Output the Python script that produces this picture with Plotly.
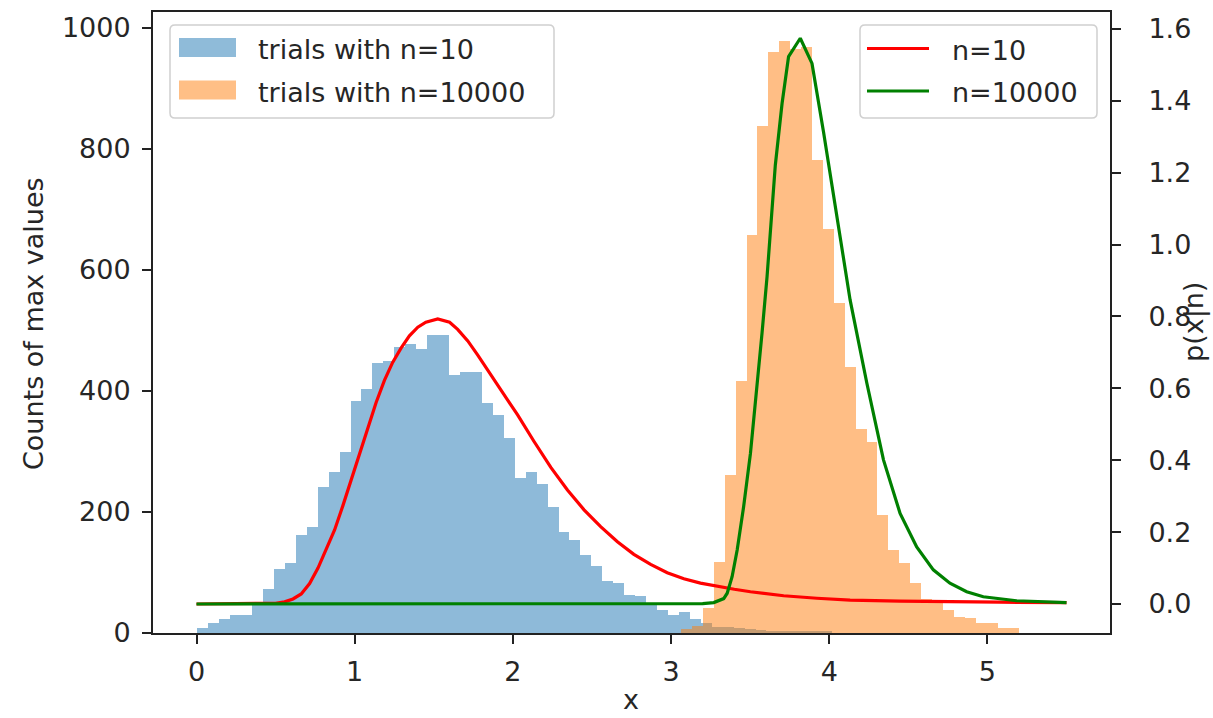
import numpy as np
import plotly.graph_objects as go

# Histogram of maxima, n = 10 trials
bins10_start = 0.005
bins10_width = 0.0692
counts_n10 = [8, 17, 23, 30, 30, 46, 72, 105, 115, 162,
              176, 242, 266, 300, 384, 403, 446, 450, 473, 478,
              470, 492, 492, 426, 432, 432, 380, 360, 323, 257,
              266, 247, 209, 167, 154, 129, 110, 86, 82, 62,
              61, 50, 38, 30, 35, 23, 16, 10, 10, 8,
              6, 5, 4, 4, 3, 3, 2, 2]

# Histogram of maxima, n = 10000 trials
bins10k_start = 3.063
bins10k_width = 0.069
counts_n10k = [6, 12, 41, 118, 261, 417, 658, 838, 961, 979,
               965, 969, 782, 667, 545, 440, 337, 316, 195, 138,
               115, 82, 57, 49, 38, 27, 24, 16, 16, 8, 8]

# Density curves p(x|n)
x_n10 = [0.0, 0.2, 0.4, 0.5, 0.557, 0.61, 0.662, 0.715, 0.768, 0.82,
         0.873, 0.925, 0.978, 1.03, 1.083, 1.135, 1.188, 1.24, 1.293, 1.346,
         1.399, 1.45, 1.525, 1.60, 1.651, 1.715, 1.777, 1.85, 1.924, 2.030,
         2.134, 2.240, 2.345, 2.450, 2.555, 2.661, 2.765, 2.871, 2.976, 3.081,
         3.186, 3.292, 3.40, 3.502, 3.61, 3.712, 3.922, 4.132, 4.448, 4.763,
         5.079, 5.5]
p_n10 = [0.0, 0.0, 0.001, 0.002, 0.006, 0.014, 0.028, 0.057, 0.100, 0.150,
         0.206, 0.273, 0.345, 0.420, 0.493, 0.560, 0.622, 0.672, 0.712, 0.746,
         0.770, 0.784, 0.793, 0.784, 0.764, 0.732, 0.693, 0.644, 0.595, 0.526,
         0.452, 0.380, 0.317, 0.262, 0.215, 0.173, 0.138, 0.110, 0.087, 0.070,
         0.058, 0.049, 0.041, 0.034, 0.028, 0.023, 0.016, 0.011, 0.008, 0.006,
         0.005, 0.004]

x_n10k = [0.0, 1.0, 2.0, 3.0, 3.20, 3.27, 3.333, 3.355, 3.386, 3.418,
          3.459, 3.502, 3.544, 3.575, 3.607, 3.638, 3.659, 3.702, 3.743, 3.817,
          3.891, 3.964, 4.036, 4.093, 4.132, 4.238, 4.343, 4.448, 4.553, 4.658,
          4.763, 4.869, 4.974, 5.184, 5.5]
p_n10k = [0.0, 0.0, 0.0, 0.0, 0.001, 0.004, 0.015, 0.030, 0.076, 0.150,
          0.271, 0.419, 0.605, 0.753, 0.911, 1.090, 1.220, 1.393, 1.523, 1.574,
          1.504, 1.313, 1.116, 0.957, 0.846, 0.614, 0.401, 0.252, 0.159, 0.095,
          0.058, 0.034, 0.020, 0.009, 0.004]

FONT = "DejaVu Sans"
FS = 27
TXT = "#262626"
BLUE = "#1f77b4"
ORANGE = "#ff7f0e"
RED = "#ff0000"
GREEN = "#008000"

W, H = 1213, 718
L, R, T, B = 153, 103, 12, 85
PW, PH = W - L - R, H - T - B


def centers(start, width, n):
    return start + width * (np.arange(n) + 0.5)


def px(x):
    """pixel column -> paper fraction"""
    return (x - L) / PW


def py(y):
    """pixel row -> paper fraction"""
    return (H - B - y) / PH


def rounded_box(x0, y0, x1, y1, r=5):
    rx, ry = r / PW, r / PH
    a, b, c, d = px(x0), py(y1), px(x1), py(y0)
    return (f"M{a + rx},{b} L{c - rx},{b} Q{c},{b} {c},{b + ry} "
            f"L{c},{d - ry} Q{c},{d} {c - rx},{d} L{a + rx},{d} "
            f"Q{a},{d} {a},{d - ry} L{a},{b + ry} Q{a},{b} {a + rx},{b} Z")


def label(text, x, y, angle=0, xanchor="center", yanchor="middle"):
    return dict(xref="paper", yref="paper", x=px(x), y=py(y), text=text,
                xanchor=xanchor, yanchor=yanchor, showarrow=False,
                textangle=angle, font=dict(family=FONT, size=FS, color=TXT))


fig = go.Figure()

bar_series = [
    ("trials with n=10", bins10_start, bins10_width, counts_n10, BLUE),
    ("trials with n=10000", bins10k_start, bins10k_width, counts_n10k, ORANGE),
]
for name, start, width, counts, color in bar_series:
    fig.add_trace(go.Bar(
        x=centers(start, width, len(counts)), y=counts, width=width,
        marker=dict(color=color, line=dict(width=0)), opacity=0.5,
        name=name, showlegend=False, yaxis="y"))

line_series = [
    ("n=10", x_n10, p_n10, RED),
    ("n=10000", x_n10k, p_n10k, GREEN),
]
for name, xs, ps, color in line_series:
    fig.add_trace(go.Scatter(
        x=xs, y=ps, mode="lines", name=name, showlegend=False,
        line=dict(color=color, width=3.2), yaxis="y2"))

# Legends: left one for the histograms, right one for the curves
shapes = []
annotations = []
for box in [(170, 25, 554, 118), (860, 25, 1097, 118)]:
    shapes.append(dict(type="path", xref="paper", yref="paper",
                       path=rounded_box(*box),
                       fillcolor="rgba(255,255,255,0.8)",
                       line=dict(color="#d0d0d0", width=1.5), layer="above"))
for i, (name, _, _, _, color) in enumerate(bar_series):
    yc = 47.5 + 42.5 * i
    shapes.append(dict(type="rect", xref="paper", yref="paper",
                       x0=px(179), x1=px(236), y0=py(yc + 9.5), y1=py(yc - 9.5),
                       fillcolor=color, opacity=0.5, line=dict(width=0),
                       layer="above"))
    annotations.append(label(name, 256, yc + 2, xanchor="left"))
for i, (name, _, _, color) in enumerate(line_series):
    yc = 48.5 + 42.5 * i
    shapes.append(dict(type="line", xref="paper", yref="paper",
                       x0=px(867), x1=px(929), y0=py(yc), y1=py(yc),
                       line=dict(color=color, width=3.2), layer="above"))
    annotations.append(label(name, 950, yc + 1.5, xanchor="left"))

# Axis titles
annotations.append(label("x", 631, 717, yanchor="bottom"))
annotations.append(label("Counts of max values", 33, 324, angle=-90))
annotations.append(label("p(x|n)", 1212, 322, angle=-90, xanchor="right"))

axis_common = dict(
    showgrid=False, zeroline=False, showline=True, linecolor="#222",
    linewidth=2, ticks="outside", ticklen=9, tickwidth=2, tickcolor="#222",
    tickfont=dict(family=FONT, size=FS, color=TXT), automargin=False,
)

fig.update_layout(
    width=W, height=H,
    margin=dict(l=L, r=R, t=T, b=B, autoexpand=False),
    paper_bgcolor="white", plot_bgcolor="white",
    barmode="overlay", bargap=0,
    font=dict(family=FONT, size=FS, color=TXT),
    showlegend=False,
    xaxis=dict(
        range=[-0.275, 5.775], tickvals=[0, 1, 2, 3, 4, 5],
        mirror=True, ticklabelstandoff=5, **axis_common),
    yaxis=dict(
        range=[0, 1026.5], tickvals=[0, 200, 400, 600, 800, 1000],
        ticklabelstandoff=6, **axis_common),
    yaxis2=dict(
        range=[-0.0807, 1.647], overlaying="y", side="right",
        tickvals=[0.0, 0.2, 0.4, 0.6, 0.8, 1.0, 1.2, 1.4, 1.6],
        ticktext=["0.0", "0.2", "0.4", "0.6", "0.8", "1.0", "1.2", "1.4", "1.6"],
        ticklabelstandoff=22, **axis_common),
    shapes=shapes,
    annotations=annotations,
)

fig.write_html("out.html")
